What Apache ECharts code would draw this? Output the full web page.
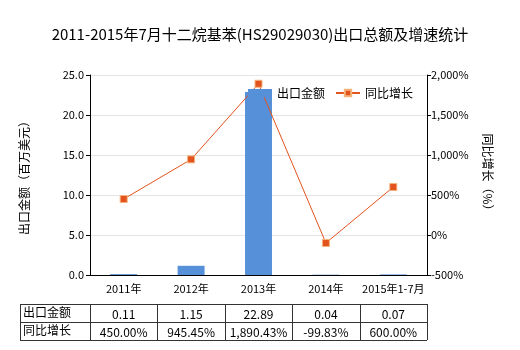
<!DOCTYPE html>
<html><head><meta charset="utf-8">
<script src="https://cdn.jsdelivr.net/npm/echarts@6/dist/echarts.min.js"></script>
<style>html,body{margin:0;padding:0;background:#fff}#c{width:520px;height:350px}</style>
</head><body><div id="c"></div>
<script>
var categories = ['2011年','2012年','2013年','2014年','2015年1-7月'];
var exportValues = [0.11, 1.15, 22.89, 0.04, 0.07];
var growthValues = [450.00, 945.45, 1890.43, -99.83, 600.00];
var exportLabels = ['0.11','1.15','22.89','0.04','0.07'];
var growthLabels = ['450.00%','945.45%','1,890.43%','-99.83%','600.00%'];
var seriesNames = ['出口金额','同比增长'];

var FONT = '"Noto Sans CJK SC", "Microsoft YaHei", sans-serif';
var gl = 90, gr = 427, gt = 75, gb = 275;
var chart = echarts.init(document.getElementById('c'), null, {renderer:'canvas'});

function fmtThousands(v){ return String(v).replace(/\B(?=(\d{3})+(?!\d))/g, ','); }

var graphics = [];
var tTop = 304, rowH = 18, colW = (gr - gl) / categories.length, tLeft = 20;
var lineStyle = {stroke:'#333', lineWidth:1};
for (var r = 0; r < 3; r++) {
  graphics.push({type:'line', shape:{x1:tLeft, y1:tTop + r*rowH + 0.5, x2:gr, y2:tTop + r*rowH + 0.5}, style:lineStyle});
}
var vx = [tLeft, gl];
for (var i = 1; i <= categories.length; i++) vx.push(gl + i*colW);
vx.forEach(function(x){
  graphics.push({type:'line', shape:{x1:Math.round(x)+0.5, y1:tTop, x2:Math.round(x)+0.5, y2:tTop + 2*rowH}, style:lineStyle});
});
seriesNames.forEach(function(n, r){
  graphics.push({type:'text', left: tLeft + 3, top: tTop + r*rowH + 2, style:{text:n, font:'12px ' + FONT, fill:'#000'}});
});
[exportLabels, growthLabels].forEach(function(arr, r){
  arr.forEach(function(t, i){
    graphics.push({type:'text', x: gl + (i+0.5)*colW, y: tTop + r*rowH + rowH/2 + 1,
      style:{text:t, font:'12px ' + FONT, fill:'#000', textAlign:'center', textVerticalAlign:'middle'}});
  });
});

chart.setOption({
  animation:false,
  backgroundColor:'#fff',
  title:{text:'2011-2015年7月十二烷基苯(HS29029030)出口总额及增速统计', left:'center', top:22,
    textStyle:{fontSize:15, fontWeight:'normal', color:'#000', fontFamily:FONT}},
  legend:{left:243, top:82, itemGap:10, itemWidth:24, itemHeight:8,
    textStyle:{fontSize:12, color:'#000', fontFamily:FONT},
    data:[{name:seriesNames[0], icon:'rect'}, {name:seriesNames[1]}]},
  grid:{left:gl, right:520-gr, top:gt, bottom:350-gb},
  xAxis:{type:'category', data:categories,
    axisLine:{lineStyle:{color:'#000'}},
    axisTick:{alignWithLabel:true, length:4, lineStyle:{color:'#000'}},
    axisLabel:{color:'#000', fontSize:11, fontFamily:FONT, margin:8, interval:0}},
  yAxis:[
    {type:'value', min:0, max:25, interval:5, name:'出口金额（百万美元）', nameLocation:'middle', nameGap:60,
      nameTextStyle:{fontSize:12, color:'#000', fontFamily:FONT},
      axisLine:{show:true, lineStyle:{color:'#000'}},
      axisTick:{show:true, length:4, lineStyle:{color:'#000'}},
      axisLabel:{color:'#000', fontSize:11, fontFamily:FONT, margin:6, formatter:function(v){return v.toFixed(1);}},
      splitLine:{lineStyle:{color:'#e4e4e4'}}},
    {type:'value', min:-500, max:2000, interval:500, name:'同比增长（%）', nameLocation:'middle', nameGap:55,
      nameRotate:-90,
      nameTextStyle:{fontSize:12, color:'#000', fontFamily:FONT},
      axisLine:{show:true, lineStyle:{color:'#000'}},
      axisTick:{show:true, length:4, lineStyle:{color:'#000'}},
      axisLabel:{color:'#000', fontSize:11, fontFamily:FONT, margin:4, formatter:function(v){return fmtThousands(v)+'%';}},
      splitLine:{show:false}}
  ],
  series:[
    {name:seriesNames[0], type:'bar', data:exportValues, barWidth:'40%', itemStyle:{color:'#5590d8'}},
    {name:seriesNames[1], type:'line', yAxisIndex:1, data:growthValues, symbol:'rect', symbolSize:7,
      lineStyle:{color:'#e2531d', width:1}, itemStyle:{color:'#e2531d', borderColor:'#f5b37c', borderWidth:1}}
  ],
  graphic:graphics
});
</script></body></html>
